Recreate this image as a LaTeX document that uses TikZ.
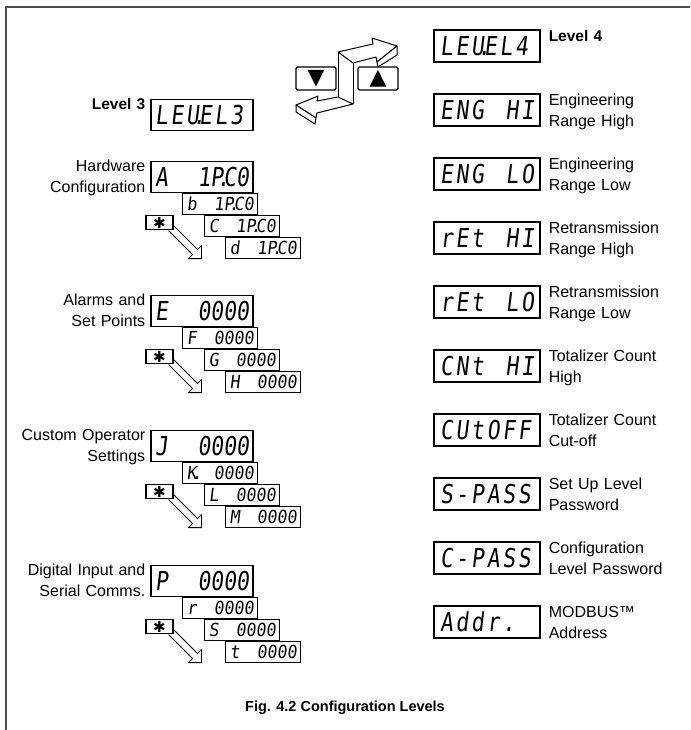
\documentclass[tikz,border=0pt]{standalone}
\usepackage{fontspec}
\setmainfont{Liberation Sans}
\newfontfamily\segfont{DejaVu Sans Mono}[FakeSlant=0.12,FakeStretch=0.82]
\newfontfamily\segwide{DejaVu Sans Mono}[FakeSlant=0.12,FakeStretch=0.82,LetterSpace=10.6]
\newfontfamily\subfont{DejaVu Sans Mono}[FakeSlant=0.12,FakeStretch=0.92]
\newfontfamily\symfont{DejaVu Sans}
\newcommand\segdot{\makebox[0pt]{.}}
\newcommand\segtxt[1]{\makebox[94pt][l]{#1}}
\newcommand\widetxt[1]{\makebox[94pt][l]{\segwide #1}}
\newcommand\subtxt[1]{\makebox[67pt][l]{#1}}
\newcommand\lblfont{\fontsize{16}{21}\selectfont}
\tikzset{
  display/.style={draw,line width=1.1pt,minimum width=102pt,minimum height=31pt,inner sep=0pt,font=\segfont\fontsize{26}{26}\selectfont,text height=19pt,text depth=0pt},
  rdisplay/.style={display,minimum width=106pt,minimum height=32pt},
  subdisp/.style={draw,line width=0.8pt,minimum width=75pt,minimum height=21pt,inner sep=0pt,font=\subfont\fontsize{18}{18}\selectfont,text height=13.1pt,text depth=0pt},
  starbox/.style={draw,line width=1.1pt,minimum width=27pt,minimum height=14pt,inner sep=0pt,font=\symfont\fontsize{15}{15}\selectfont},
  keybox/.style={draw,rounded corners=1.5pt,line width=1.2pt,minimum width=40pt,minimum height=23pt,inner sep=0pt,font=\symfont\fontsize{22}{22}\selectfont},
  leftlbl/.style={text width=140pt,align=right,anchor=base east,inner sep=0pt,font=\lblfont},
  rightlbl/.style={text width=138pt,align=left,anchor=base west,inner sep=0pt,font=\lblfont},
  hollow/.style={line width=0.8pt,line join=miter},
  ribbon/.style={line width=1pt,fill=white,line join=round}
}
\begin{document}
\begin{tikzpicture}[x=1pt,y=-1pt]
\useasboundingbox (0,0) rectangle (690,730);
\draw[line width=1.6pt,black!70] (6,730) -- (6,7) -- (690,7);

\node[keybox] (dn) at (316,78.5) {▼};
\node[keybox] (up) at (378,78.5) {▲};
\draw[ribbon] (338,52) -- (373,44) -- (372,38) -- (397,46) -- (377,62) -- (376,57) -- (353,63) -- cycle;
\draw[ribbon] (397,46) -- (397,55) -- (378,67) -- (377,62) -- cycle;
\draw[line width=1pt] (338,52) -- (338,97);
\draw[line width=1pt] (353,63) -- (353,104);
\draw[ribbon] (338,97) -- (317,101) -- (318,96) -- (296,105) -- (316,118) -- (317,113) -- (353,104) -- cycle;
\draw[ribbon] (296,105) -- (296,112) -- (315,124) -- (316,118) -- cycle;

\node[display] (lev3) at (202,115) {\widetxt{LEU\segdot EL3}};
\node[leftlbl,font=\fontsize{15.5}{21}\selectfont\bfseries] (lev3l) at ([xshift=-5pt,yshift=-11pt]lev3.north west) {Level 3};

\node[display] (hw) at (202,177) {\segtxt{A\hfill 1P\segdot C0}};
\node[subdisp,anchor=north west] (hwb) at ([xshift=32pt]hw.south west) {\subtxt{b\hfill 1P\segdot C0}};
\node[subdisp,anchor=north west] (hwc) at ([xshift=22pt]hwb.south west) {\subtxt{C\hfill 1P\segdot C0}};
\node[subdisp,anchor=north west] (hwd) at ([xshift=21pt]hwc.south west) {\subtxt{d\hfill 1P\segdot C0}};
\node[starbox,anchor=north west] (hwk) at ([xshift=-5pt,yshift=-22pt]hw.south west) {✱};
\draw[hollow] ([yshift=-3pt]hwk.east) -- ++(24,24) -- ++(4,-4) -- ++(0,13) -- ++(-13,0) -- ++(4,-4) -- ++(-24,-24);
\node[leftlbl] (hwl) at ([xshift=-5pt,yshift=-11pt]hw.north west) {Hardware\\Configuration};

\node[display] (al) at (202,311) {\segtxt{E\hfill 0000}};
\node[subdisp,anchor=north west] (alf) at ([xshift=32pt]al.south west) {\subtxt{F\hfill 0000}};
\node[subdisp,anchor=north west] (alg) at ([xshift=22pt]alf.south west) {\subtxt{G\hfill 0000}};
\node[subdisp,anchor=north west] (alh) at ([xshift=21pt]alg.south west) {\subtxt{H\hfill 0000}};
\node[starbox,anchor=north west] (alk) at ([xshift=-5pt,yshift=-22pt]al.south west) {✱};
\draw[hollow] ([yshift=-3pt]alk.east) -- ++(24,24) -- ++(4,-4) -- ++(0,13) -- ++(-13,0) -- ++(4,-4) -- ++(-24,-24);
\node[leftlbl] (all) at ([xshift=-5pt,yshift=-11pt]al.north west) {Alarms and\\Set Points};

\node[display] (op) at (202,446) {\segtxt{J\hfill 0000}};
\node[subdisp,anchor=north west] (opk) at ([xshift=32pt]op.south west) {\subtxt{K\segdot\hfill 0000}};
\node[subdisp,anchor=north west] (opl) at ([xshift=22pt]opk.south west) {\subtxt{L\hfill 0000}};
\node[subdisp,anchor=north west] (opm) at ([xshift=21pt]opl.south west) {\subtxt{M\hfill 0000}};
\node[starbox,anchor=north west] (ops) at ([xshift=-5pt,yshift=-22pt]op.south west) {✱};
\draw[hollow] ([yshift=-3pt]ops.east) -- ++(24,24) -- ++(4,-4) -- ++(0,13) -- ++(-13,0) -- ++(4,-4) -- ++(-24,-24);
\node[leftlbl] (opt) at ([xshift=-5pt,yshift=-11pt]op.north west) {Custom Operator\\Settings};

\node[display] (di) at (202,581) {\segtxt{P\hfill 0000}};
\node[subdisp,anchor=north west] (dir) at ([xshift=32pt]di.south west) {\subtxt{r\hfill 0000}};
\node[subdisp,anchor=north west] (dis) at ([xshift=22pt]dir.south west) {\subtxt{S\hfill 0000}};
\node[subdisp,anchor=north west] (dit) at ([xshift=21pt]dis.south west) {\subtxt{t\hfill 0000}};
\node[starbox,anchor=north west] (dik) at ([xshift=-5pt,yshift=-22pt]di.south west) {✱};
\draw[hollow] ([yshift=-3pt]dik.east) -- ++(24,24) -- ++(4,-4) -- ++(0,13) -- ++(-13,0) -- ++(4,-4) -- ++(-24,-24);
\node[leftlbl] (dil) at ([xshift=-5pt,yshift=-11pt]di.north west) {Digital Input and\\Serial Comms.};

\node[rdisplay] (lev4) at (487,46) {\widetxt{LEU\segdot EL4}};
\node[rightlbl,font=\fontsize{15.5}{21}\selectfont\bfseries] (lev4l) at ([xshift=8pt,yshift=-12.5pt]lev4.north east) {Level 4};
\node[rdisplay] (enghi) at (487,110) {\widetxt{ENG\hfill HI}};
\node[rightlbl] (enghil) at ([xshift=8pt,yshift=-12.5pt]enghi.north east) {Engineering\\Range High};
\node[rdisplay] (englo) at (487,174) {\widetxt{ENG\hfill LO}};
\node[rightlbl] (englol) at ([xshift=8pt,yshift=-12.5pt]englo.north east) {Engineering\\Range Low};
\node[rdisplay] (rethi) at (487,238) {\widetxt{rEt\hfill HI}};
\node[rightlbl] (rethil) at ([xshift=8pt,yshift=-12.5pt]rethi.north east) {Retransmission\\Range High};
\node[rdisplay] (retlo) at (487,302) {\widetxt{rEt\hfill LO}};
\node[rightlbl] (retlol) at ([xshift=8pt,yshift=-12.5pt]retlo.north east) {Retransmission\\Range Low};
\node[rdisplay] (cnthi) at (487,366) {\widetxt{CNt\hfill HI}};
\node[rightlbl] (cnthil) at ([xshift=8pt,yshift=-12.5pt]cnthi.north east) {Totalizer Count\\High};
\node[rdisplay] (cutoff) at (487,430) {\widetxt{CUtOFF}};
\node[rightlbl] (cutoffl) at ([xshift=8pt,yshift=-12.5pt]cutoff.north east) {Totalizer Count\\Cut-off};
\node[rdisplay] (spass) at (487,494) {\widetxt{S-PASS}};
\node[rightlbl] (spassl) at ([xshift=8pt,yshift=-12.5pt]spass.north east) {Set Up Level\\Password};
\node[rdisplay] (cpass) at (487,558) {\widetxt{C-PASS}};
\node[rightlbl] (cpassl) at ([xshift=8pt,yshift=-12.5pt]cpass.north east) {Configuration\\Level Password};
\node[rdisplay] (addr) at (487,622) {\widetxt{Addr.}};
\node[rightlbl] (addrl) at ([xshift=8pt,yshift=-12.5pt]addr.north east) {MODBUS™\\Address};

\node[font=\fontsize{14.5}{17}\selectfont\bfseries] (fig) at (345,708) {Fig. 4.2 Configuration Levels};
\end{tikzpicture}
\end{document}
